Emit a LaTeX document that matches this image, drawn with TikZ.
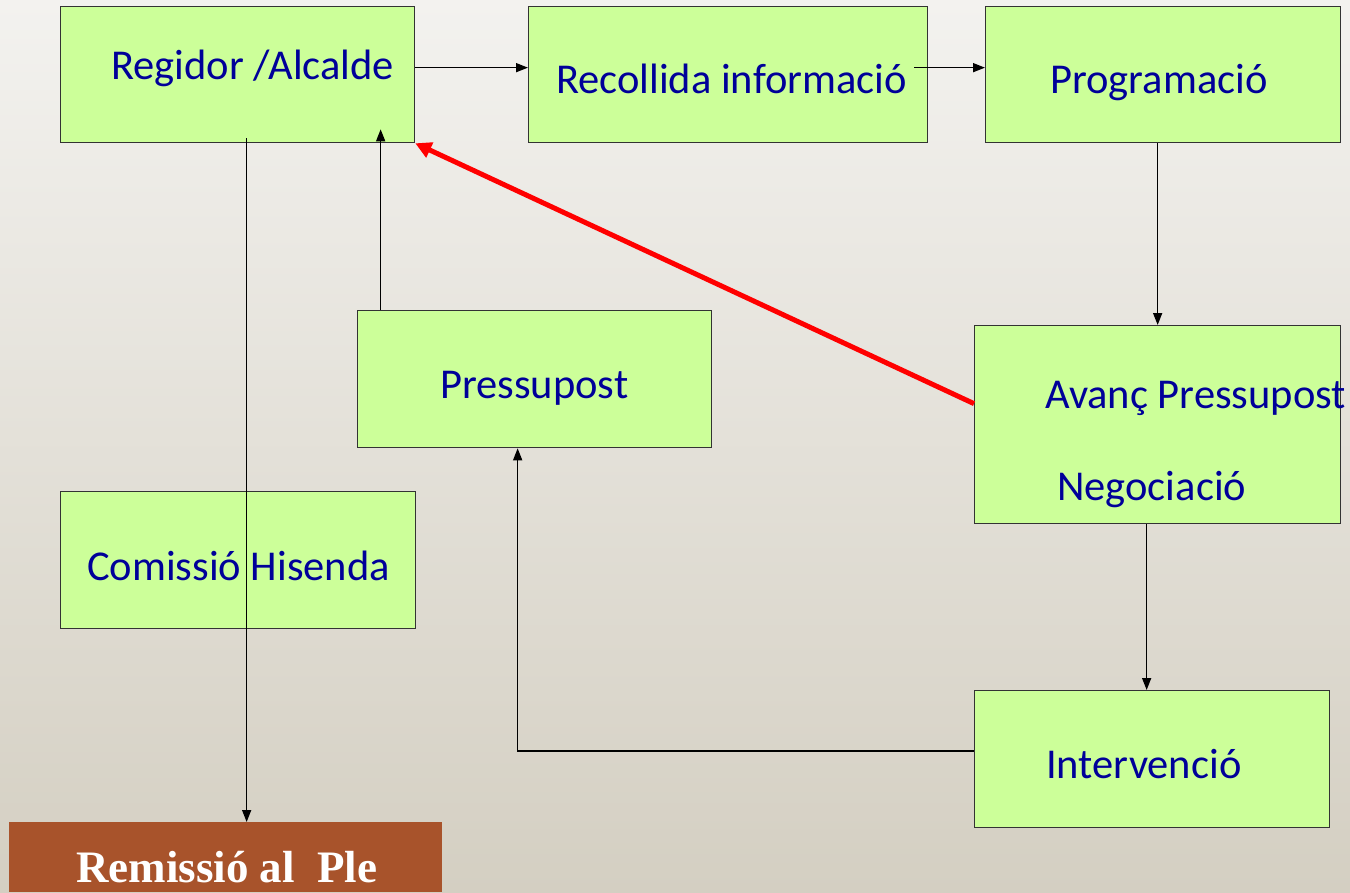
\documentclass[tikz,border=0pt]{standalone}
\usepackage{fontspec}
\setmainfont{Carlito}
\newfontfamily\remfont{Liberation Serif}
\usetikzlibrary{arrows.meta}
\definecolor{boxfill}{RGB}{204,255,153}
\definecolor{txtblue}{RGB}{0,0,153}
\definecolor{bgtop}{RGB}{243,242,239}
\definecolor{bgbot}{RGB}{212,207,194}
\definecolor{remcolor}{RGB}{168,83,43}
\begin{document}
\begin{tikzpicture}[x=1pt,y=-1pt,
  box/.style={draw=black!80, line width=1.3pt, fill=boxfill, inner sep=0pt, anchor=north west},
  lbl/.style={anchor=base west, inner sep=0pt, text=txtblue, font=\fontsize{42.5}{50}\selectfont},
  conn/.style={line width=1.5pt, -{Triangle[length=12pt,width=9pt]}},
  redconn/.style={draw=red, line width=5pt, -{Triangle[length=16pt,width=16pt]}},
]
\shade[top color=bgtop, bottom color=bgbot] (0,0) rectangle (1350,892);
\useasboundingbox (0,0) rectangle (1350,892);

% boxes
\node[box, minimum width=354pt, minimum height=136pt] (reg) at (60,6) {};
\node[box, minimum width=399pt, minimum height=136pt] (rec) at (528,6) {};
\node[box, minimum width=355pt, minimum height=136pt] (prog) at (985,6) {};
\node[box, minimum width=354pt, minimum height=137pt] (pres) at (357,310) {};
\node[box, minimum width=366pt, minimum height=198pt] (avanc) at (974,325) {};
\node[box, minimum width=355pt, minimum height=137pt] (com) at (60,491) {};
\node[box, minimum width=355pt, minimum height=137pt] (int) at (974,690) {};
\node[fill=remcolor, inner sep=0pt, anchor=north west, minimum width=433pt, minimum height=70pt] (rem) at (9,822) {};

% labels
\node[lbl] (tReg) at (111,79) {Regidor /Alcalde};
\node[lbl] (tRec) at (556,93) {Recollida informació};
\node[lbl] (tProg) at (1050,93) {Programació};
\node[lbl] (tPres) at (440,398) {Pressupost};
\node[lbl] (tAv1) at (1045,408) {Avanç Pressupost};
\node[lbl] (tAv2) at (1057,500) {Negociació};
\node[lbl] (tCom) at (87,580) {Comissió Hisenda};
\node[lbl] (tInt) at (1046,778) {Intervenció};
\node[anchor=base west, inner sep=0pt, text=white, font=\remfont\bfseries\fontsize{45}{52}\selectfont] (tRem) at (76,882) {Remissió al\ \ Ple};

% helper coordinates
\coordinate (a1) at ([yshift=7pt]reg.east);
\coordinate (a2) at ([yshift=7pt]rec.west);
\coordinate (b1) at ([xshift=-14pt,yshift=7pt]rec.east);
\coordinate (b2) at ([yshift=7pt]prog.west);
\coordinate (d2) at ([xshift=-5.5pt]int.north);
\coordinate (e1) at ([yshift=8pt]int.west);
\coordinate (e2) at ([xshift=-17pt]pres.south);
\coordinate (f1) at ([xshift=-154pt]pres.north);
\coordinate (f2) at ([yshift=14pt]reg.south);
\coordinate (g1) at ([xshift=9pt,yshift=5pt]reg.south);
\coordinate (h1) at ([yshift=21pt]avanc.west);

% connectors
\draw[conn] (a1) -- (a2);
\draw[conn] (b1) -- (b2);
\draw[conn] (avanc.north |- prog.south) -- (avanc.north);
\draw[conn] (d2 |- avanc.south) -- (d2);
\draw[conn] (e1) -| (e2);
\draw[conn] (f1) -- (f1 |- f2);
\draw[conn] (g1) -- (g1 |- rem.north);
\draw[redconn] (h1) -- (reg.south east);
\end{tikzpicture}
\end{document}
